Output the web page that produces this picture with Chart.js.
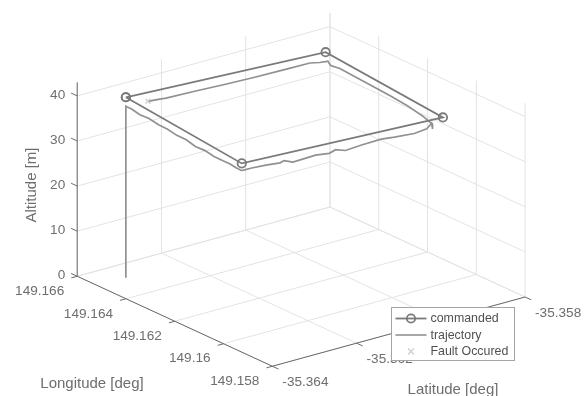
<!DOCTYPE html>
<html>
<head>
<meta charset="utf-8">
<script src="https://cdn.jsdelivr.net/npm/chart.js@4.4.1/dist/chart.umd.min.js"></script>
<style>
  html, body { margin: 0; padding: 0; background: #fff; }
  #c { display: block; }
</style>
</head>
<body>
<canvas id="c" width="588" height="396"></canvas>
<script>
// Waypoints vs flown path, plot3 style, drawn on a flat scatter with a hand-made projection

const latTicks = [-35.364, -35.362, -35.36, -35.358];
const lonTicks = [149.158, 149.16, 149.162, 149.164, 149.166];
const altTicks = [0, 10, 20, 30, 40];
const altMax = 43;

// commanded waypoints (closed loop)
const cmdLat = [-35.36332, -35.36373, -35.35925, -35.35889, -35.36332];
const cmdLon = [149.16518, 149.15972, 149.15921, 149.16464, 149.16518];
const cmdAlt = [40, 40, 40, 40, 40];

// flown trajectory
const trajLat = [
  -35.36332, -35.36332, -35.36334, -35.36337, -35.36340, -35.36343, -35.36347, -35.36350,
  -35.36353, -35.36357, -35.36360, -35.36363, -35.36366, -35.36369, -35.36371, -35.36373,
  -35.36370, -35.36351, -35.36319, -35.36288, -35.36279, -35.36259, -35.36230, -35.36209,
  -35.36178, -35.36164, -35.36142, -35.36106, -35.36062, -35.36033, -35.35989, -35.35961,
  -35.35950, -35.35946, -35.35942, -35.35936, -35.35926, -35.35914, -35.35909, -35.35903,
  -35.35898, -35.35893, -35.35891, -35.35890, -35.35889, -35.35902, -35.35924, -35.35978,
  -35.36044, -35.36111, -35.36177, -35.36243, -35.36263, -35.36283
];
const trajLon = [
  149.16518, 149.16518, 149.16491, 149.16452, 149.16409, 149.16365, 149.16321, 149.16278,
  149.16234, 149.16190, 149.16147, 149.16103, 149.16059, 149.16027, 149.15999, 149.15974,
  149.15970, 149.15969, 149.15966, 149.15962, 149.15961, 149.15959, 149.15956, 149.15953,
  149.15950, 149.15948, 149.15946, 149.15942, 149.15937, 149.15933, 149.15928, 149.15925,
  149.15924, 149.15928, 149.15934, 149.15960, 149.16002, 149.16084, 149.16165, 149.16247,
  149.16328, 149.16399, 149.16440, 149.16453, 149.16464, 149.16466, 149.16468, 149.16475,
  149.16483, 149.16491, 149.16499, 149.16507, 149.16510, 149.16512
];
const trajAlt = [
  0, 38.0, 38.1, 37.9, 38.2, 38.0, 38.2, 38.0,
  38.2, 37.9, 38.2, 38.0, 38.2, 38.4, 38.3, 38.4,
  38.5, 38.5, 38.4, 38.2, 38.5, 37.7, 37.9, 38.1,
  37.8, 38.3, 37.6, 38.0, 38.3, 38.1, 37.9, 38.3,
  39.3, 38.0, 38.6, 38.5, 38.3, 38.2, 38.3, 38.2,
  38.2, 38.1, 37.7, 38.3, 37.9, 38.0, 38.4, 38.2,
  38.0, 37.9, 37.9, 37.8, 37.9, 38.0
];

const faultLat = [-35.36283];
const faultLon = [149.16512];
const faultAlt = [38.0];

// ---- projection (orthographic, view fixed to match the figure) ----
const ORIGIN = { x: 72.7, y: 278.7 };         // lon 149.166, lat -35.364, alt 0
const LON_STEP = { x: 49.8, y: 23.2 };        // per -0.002 deg lon
const LAT_STEP = { x: 86.0, y: -23.8 };       // per +0.002 deg lat
const ALT_PX = 4.65;                           // per metre

function proj(lat, lon, alt) {
  const u = (149.166 - lon) / 0.002;
  const v = (lat + 35.364) / 0.002;
  return {
    x: ORIGIN.x + LON_STEP.x * u + LAT_STEP.x * v,
    y: ORIGIN.y + LON_STEP.y * u + LAT_STEP.y * v - ALT_PX * alt,
  };
}

const latMin = latTicks[0], latMax = latTicks[latTicks.length - 1];
const lonMin = lonTicks[0], lonMax = lonTicks[lonTicks.length - 1];
const GAP = { x: 0, y: null };

function segs(list) {
  const out = [];
  list.forEach(([a, b]) => { out.push(proj(...a), proj(...b), GAP); });
  return out;
}

// grid on the floor and on the two back walls
const gridSegs = [];
lonTicks.forEach(lo => gridSegs.push([[latMin, lo, 0], [latMax, lo, 0]]));
latTicks.forEach(la => gridSegs.push([[la, lonMin, 0], [la, lonMax, 0]]));
latTicks.forEach(la => gridSegs.push([[la, lonMax, 0], [la, lonMax, altMax]]));
altTicks.forEach(z => gridSegs.push([[latMin, lonMax, z], [latMax, lonMax, z]]));
lonTicks.forEach(lo => gridSegs.push([[latMax, lo, 0], [latMax, lo, altMax]]));
altTicks.forEach(z => gridSegs.push([[latMax, lonMin, z], [latMax, lonMax, z]]));

// axis lines + tick stubs
const axisSegs = [
  [[latMin, lonMax, 0], [latMin, lonMax, altMax]],
  [[latMin, lonMax, 0], [latMin, lonMin, 0]],
  [[latMin, lonMin, 0], [latMax, lonMin, 0]],
];
altTicks.forEach(z => axisSegs.push([[latMin, lonMax, z], [latMin, lonMax + 0.00025, z]]));
lonTicks.forEach(lo => axisSegs.push([[latMin, lo, 0], [latMin - 0.00014, lo, 0]]));
latTicks.forEach(la => axisSegs.push([[la, lonMin, 0], [la, lonMin - 0.00025, 0]]));

const cmdPts = cmdLat.map((la, i) => proj(la, cmdLon[i], cmdAlt[i]));
const trajPts = trajLat.map((la, i) => proj(la, trajLon[i], trajAlt[i]));
const faultPts = faultLat.map((la, i) => proj(la, faultLon[i], faultAlt[i]));

const FONT = '"Liberation Sans", Arial, Helvetica, sans-serif';
const COL = {
  grid: '#e3e3e3',
  axis: '#6a6a6a',
  tick: '#6e6e6e',
  cmd: '#7a7a7a',
  traj: '#919191',
  fault: '#cfcfcf',
};

const labelsPlugin = {
  id: 'labels3d',
  afterDraw(chart) {
    const { ctx } = chart;
    const sx = chart.scales.x, sy = chart.scales.y;
    const px = p => [sx.getPixelForValue(p.x), sy.getPixelForValue(p.y)];
    ctx.save();
    ctx.fillStyle = COL.tick;
    ctx.font = `13.6px ${FONT}`;
    ctx.textBaseline = 'middle';

    ctx.textAlign = 'right';
    altTicks.forEach(z => {
      const [x, y] = px(proj(latMin, lonMax, z));
      ctx.fillText(String(z), x - 12, y - 1);
    });
    lonTicks.forEach(lo => {
      const [x, y] = px(proj(latMin, lo, 0));
      ctx.fillText(String(lo), x - 13, y + 15);
    });
    ctx.textAlign = 'left';
    latTicks.forEach(la => {
      const [x, y] = px(proj(la, lonMin, 0));
      ctx.fillText(String(la), x + 10, y + 16);
    });

    ctx.font = `15px ${FONT}`;
    ctx.textAlign = 'center';
    ctx.fillText('Longitude [deg]', 92, 384);
    ctx.fillText('Latitude [deg]', 453, 390);
    ctx.save();
    ctx.translate(32, 185);
    ctx.rotate(-Math.PI / 2);
    ctx.fillText('Altitude [m]', 0, 0);
    ctx.restore();

    // legend box
    const lx = 391.5, ly = 307.5, lw = 123, lh = 53;
    ctx.fillStyle = '#fff';
    ctx.fillRect(lx, ly, lw, lh);
    ctx.strokeStyle = '#a4a4a4';
    ctx.lineWidth = 1;
    ctx.strokeRect(lx, ly, lw, lh);

    const rows = [318.5, 335, 351.5];
    ctx.lineWidth = 1.8;
    ctx.strokeStyle = COL.cmd;
    ctx.beginPath(); ctx.moveTo(395.5, rows[0]); ctx.lineTo(426.5, rows[0]); ctx.stroke();
    ctx.beginPath(); ctx.arc(411, rows[0], 4.2, 0, Math.PI * 2); ctx.stroke();
    ctx.strokeStyle = COL.traj;
    ctx.lineWidth = 1.6;
    ctx.beginPath(); ctx.moveTo(395.5, rows[1]); ctx.lineTo(426.5, rows[1]); ctx.stroke();
    ctx.strokeStyle = COL.fault;
    ctx.lineWidth = 1.3;
    ctx.beginPath();
    ctx.moveTo(408, rows[2] - 3); ctx.lineTo(414, rows[2] + 3);
    ctx.moveTo(414, rows[2] - 3); ctx.lineTo(408, rows[2] + 3);
    ctx.stroke();

    ctx.fillStyle = '#505050';
    ctx.font = `12.4px ${FONT}`;
    ctx.textAlign = 'left';
    ['commanded', 'trajectory', 'Fault Occured'].forEach((t, i) => ctx.fillText(t, 430.5, rows[i] + 0.5));
    ctx.restore();
  },
};

new Chart(document.getElementById('c'), {
  type: 'scatter',
  data: {
    datasets: [
      { label: 'grid', data: segs(gridSegs), showLine: true, borderColor: COL.grid, borderWidth: 1,
        pointRadius: 0, spanGaps: false, order: 10 },
      { label: 'axes', data: segs(axisSegs), showLine: true, borderColor: COL.axis, borderWidth: 1,
        pointRadius: 0, spanGaps: false, order: 9 },
      { label: 'trajectory', data: trajPts, showLine: true, borderColor: COL.traj, borderWidth: 1.7,
        pointRadius: 0, tension: 0, order: 2 },
      { label: 'commanded', data: cmdPts, showLine: true, borderColor: COL.cmd, borderWidth: 1.8,
        pointRadius: 4.2, pointBorderWidth: 1.8, pointBorderColor: COL.cmd,
        pointBackgroundColor: 'rgba(0,0,0,0)', tension: 0, order: 1 },
      { label: 'Fault Occured', data: faultPts, showLine: false, pointStyle: 'crossRot',
        pointRadius: 3.5, pointBorderWidth: 1.3, borderColor: COL.fault, order: 0 },
    ],
  },
  options: {
    responsive: false,
    animation: false,
    events: [],
    layout: { padding: 0 },
    plugins: { legend: { display: false }, tooltip: { enabled: false } },
    scales: {
      x: { type: 'linear', display: false, min: 0, max: 588 },
      y: { type: 'linear', display: false, min: 0, max: 396, reverse: true },
    },
  },
  plugins: [labelsPlugin],
});
</script>
</body>
</html>
